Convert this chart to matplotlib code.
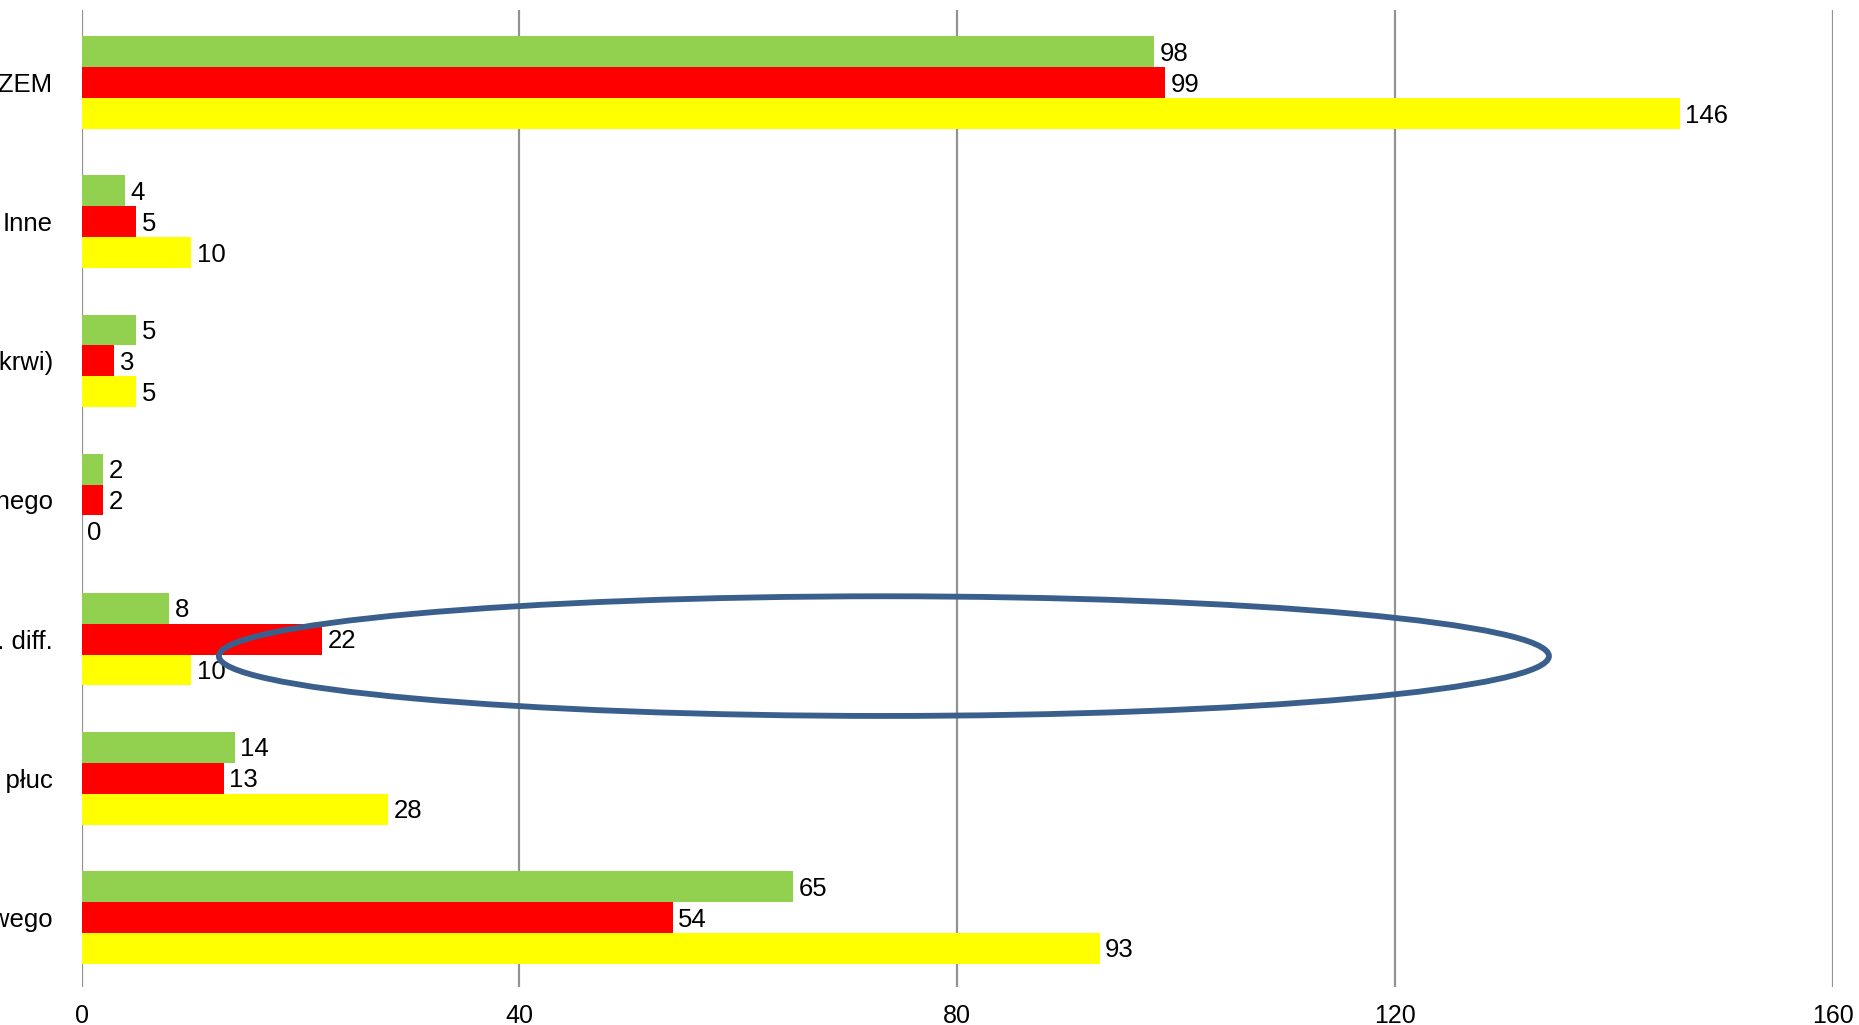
import matplotlib
matplotlib.use("Agg")
import matplotlib.pyplot as plt
from matplotlib.patches import Ellipse
import numpy as np

plt.rcParams["font.family"] = ["Liberation Sans", "DejaVu Sans"]

# Categories listed bottom to top
categories = [
    "Zakażenie układu moczowego",
    "Zapalenie płuc",
    "Zakażenie Cl. diff.",
    "Zakażenie miejsca operowanego",
    "Sepsa (zakażenie krwi)",
    "Inne",
    "RAZEM",
]
series_green = [65, 14, 8, 2, 5, 4, 98]
series_red = [54, 13, 22, 2, 3, 5, 99]
series_yellow = [93, 28, 10, 0, 5, 10, 146]
x_ticks = [0, 40, 80, 120, 160]

W, H = 1859, 1025
fig = plt.figure(figsize=(W / 100, H / 100), dpi=100)
left, right, top, bottom = 81.5, 1833, 9.5, 987
ax = fig.add_axes([left / W, 1 - bottom / H, (right - left) / W, (bottom - top) / H])

y = np.arange(len(categories))
h = 0.222
colors = {"green": "#92D050", "red": "#FF0000", "yellow": "#FFFF00"}

bars_g = ax.barh(y + h, series_green, height=h, color=colors["green"], zorder=3)
bars_r = ax.barh(y, series_red, height=h, color=colors["red"], zorder=3)
bars_y = ax.barh(y - h, series_yellow, height=h, color=colors["yellow"], zorder=3)

for bars, vals in ((bars_g, series_green), (bars_r, series_red), (bars_y, series_yellow)):
    for b, v in zip(bars, vals):
        ax.annotate(str(v), xy=(v, b.get_y() + b.get_height() / 2),
                    xytext=(4, -1.5), textcoords="offset points",
                    ha="left", va="center", fontsize=18.5, color="black", zorder=5)

ax.set_xlim(0, 160)
ax.set_ylim(-0.5, 6.525)
ax.set_xticks(x_ticks)
ax.set_xticklabels([str(t) for t in x_ticks])
ax.set_yticks(y)
ax.set_yticklabels(categories)

ax.tick_params(axis="x", length=0, pad=12, labelsize=18)
ax.tick_params(axis="y", length=0, pad=20.5, labelsize=18.5)

for s in ax.spines.values():
    s.set_visible(False)
ax.grid(axis="x", color="#929292", linewidth=1.6, zorder=1)
ax.grid(axis="y", visible=False)
ax.set_axisbelow(True)

# Highlight around the third group
ell = Ellipse((73.3, 1.878), width=121.5, height=0.86, fill=False,
              edgecolor="#3B5F8C", linewidth=4.2, zorder=6)
ax.add_patch(ell)

fig.savefig("out.png", dpi=100)
